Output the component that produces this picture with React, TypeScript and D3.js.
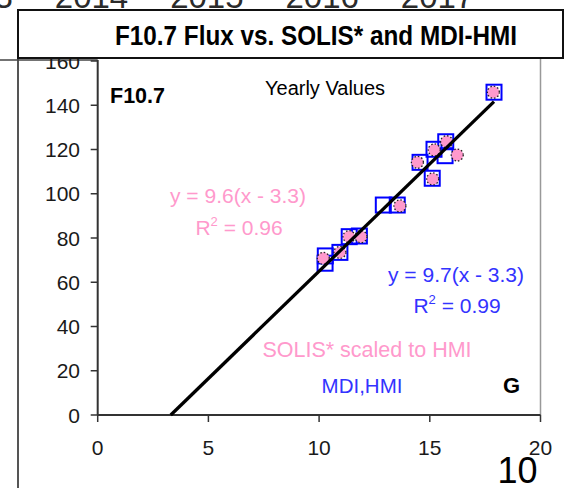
import React from "react";
import * as d3 from "d3";

const W = 565;
const H = 488;

const xTicks = [0, 5, 10, 15, 20];
const yTicks = [0, 20, 40, 60, 80, 100, 120, 140, 160];
const topYears = ["2013", "2014", "2015", "2016", "2017"];

// MDI,HMI (blue squares)
const hmiX = [17.9, 15.72, 15.19, 15.69, 14.56, 15.11, 12.9, 13.53, 11.36, 11.82, 10.94, 10.28, 10.27];
const hmiY = [145.9, 123.5, 120.1, 117.2, 114.2, 107.0, 94.9, 94.9, 80.6, 80.9, 73.5, 71.9, 68.6];

// SOLIS* scaled to HMI (pink dots)
const solisX = [17.87, 15.76, 15.2, 16.24, 14.44, 15.13, 13.65, 11.89, 11.35, 10.94, 10.19];
const solisY = [145.9, 123.5, 119.8, 117.5, 114.2, 106.7, 94.5, 80.6, 80.6, 73.5, 70.8];

const fitSlope = 9.7;
const fitX0 = 3.3;
const fitXEnd = 17.9;

const PINK = "#ff99cc";
const BLUE = "#3333ff";
const FONT = "'Liberation Sans', Arial, sans-serif";

export default function App() {
  const x = d3.scaleLinear().domain([0, 20]).range([97.7, 540.5]);
  const y = d3.scaleLinear().domain([0, 160]).range([415, 61]);
  const fitLine = d3
    .line<number>()
    .x((d) => x(d))
    .y((d) => y(fitSlope * (d - fitX0)));
  const yearX = d3.scaleLinear().domain([0, 4]).range([-23.8, 437.5]);

  return (
    <svg
      width={W}
      height={H}
      style={{ position: "absolute", left: 0, top: 0, background: "#fff" }}
      fontFamily={FONT}
    >
      <rect x={0} y={0} width={W} height={H} fill="#fff" />
      {/* cut-off year labels of chart above */}
      {topYears.map((t, i) => (
        <text key={t} x={yearX(i)} y={8} fontSize={33} textAnchor="middle" fill="#2b2b2b">
          {t}
        </text>
      ))}
      {/* outer frame lines */}
      <line x1={18} y1={10} x2={18} y2={H} stroke="#555" strokeWidth={2} />
      <line x1={0} y1={60} x2={x(0)} y2={60} stroke="#444" strokeWidth={1.5} />
      {/* plot right border */}
      <line x1={x(20)} y1={58} x2={x(20)} y2={y(0)} stroke="#999" strokeWidth={1.5} />
      {/* axes */}
      <line x1={x(0)} y1={60} x2={x(0)} y2={y(0)} stroke="#333" strokeWidth={2} />
      <line x1={x(0)} y1={y(0)} x2={x(20)} y2={y(0)} stroke="#333" strokeWidth={2} />
      {yTicks.map((t) => (
        <g key={t}>
          <line x1={x(0) - 7} x2={x(0)} y1={y(t)} y2={y(t)} stroke="#333" strokeWidth={1.5} />
          <text x={80} y={y(t)} dy="0.36em" fontSize={21} textAnchor="end" fill="#1a1a1a">
            {t}
          </text>
        </g>
      ))}
      {xTicks.map((t) => (
        <g key={t}>
          <line x1={x(t)} x2={x(t)} y1={y(0)} y2={y(0) + 7} stroke="#333" strokeWidth={1.5} />
          <text x={x(t)} y={455} fontSize={21} textAnchor="middle" fill="#1a1a1a">
            {t}
          </text>
        </g>
      ))}
      {/* title box */}
      <rect x={18} y={10} width={545} height={48} fill="#fff" stroke="#111" strokeWidth={2} />
      <text x={115} y={45} fontSize={27} fontWeight="bold" textLength={402} lengthAdjust="spacingAndGlyphs" fill="#000">
        F10.7 Flux vs. SOLIS* and MDI-HMI
      </text>
      {/* annotations */}
      <text x={110} y={103} fontSize={21.5} fontWeight="bold" fill="#000">F10.7</text>
      <text x={265} y={95} fontSize={20} fill="#000">Yearly Values</text>
      <text x={238} y={203} fontSize={21} textAnchor="middle" fill={PINK}>y = 9.6(x - 3.3)</text>
      <text x={239} y={235} fontSize={21} textAnchor="middle" fill={PINK}>
        R<tspan dy={-9} fontSize={13}>2</tspan><tspan dy={9}> = 0.96</tspan>
      </text>
      <text x={456} y={282} fontSize={21} textAnchor="middle" fill={BLUE}>y = 9.7(x - 3.3)</text>
      <text x={457} y={313} fontSize={21} textAnchor="middle" fill={BLUE}>
        R<tspan dy={-9} fontSize={13}>2</tspan><tspan dy={9}> = 0.99</tspan>
      </text>
      <text x={367} y={357} fontSize={21.5} textAnchor="middle" fill={PINK}>SOLIS* scaled to HMI</text>
      <text x={362} y={393} fontSize={20.5} textAnchor="middle" fill={BLUE}>MDI,HMI</text>
      <text x={503} y={393} fontSize={22} fontWeight="bold" fill="#000">G</text>
      {/* data */}
      {hmiX.map((v, i) => (
        <rect
          key={"h" + i}
          x={x(v) - 7.5}
          y={y(hmiY[i]) - 7.5}
          width={15}
          height={15}
          fill="none"
          stroke="#0000ff"
          strokeWidth={2}
        />
      ))}
      {solisX.map((v, i) => (
        <circle
          key={"s" + i}
          cx={x(v)}
          cy={y(solisY[i])}
          r={6}
          fill={PINK}
          stroke="#222"
          strokeWidth={1.3}
          strokeDasharray="1.5,2"
        />
      ))}
      <path d={fitLine([fitX0, fitXEnd]) || ""} stroke="#000" strokeWidth={3.3} fill="none" />
      <text x={517.5} y={483} fontSize={36} textAnchor="middle" fill="#000">10</text>
    </svg>
  );
}
